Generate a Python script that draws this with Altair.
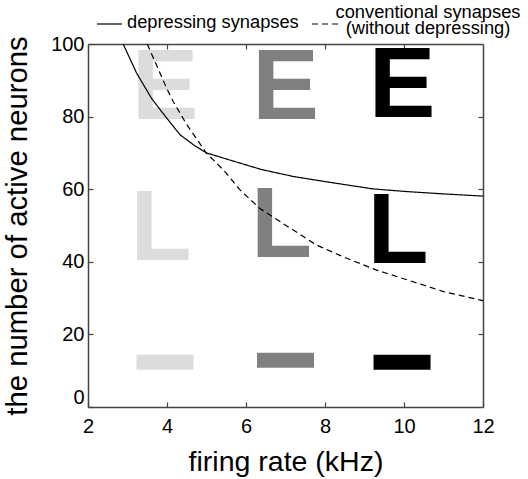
import altair as alt
import pandas as pd

# depressing synapses (solid curve)
dep_x = [2.89, 3.23, 3.61, 3.82, 4.0, 4.33, 4.7, 5.0, 5.6, 6.4, 7.2, 8.0, 9.2, 10.0, 11.0, 12.0]
dep_y = [100, 92, 85, 82, 79.5, 75, 72, 70, 68, 65.4, 63.5, 62.1, 60.1, 59.4, 58.7, 58.1]
# conventional synapses (dashed curve)
conv_x = [3.5, 4.0, 4.16, 4.5, 5.0, 5.43, 5.85, 6.35, 7.0, 7.79, 8.5, 9.31, 10.49, 11.0, 12.0]
conv_y = [100, 87.6, 84.1, 77.8, 69.9, 65.3, 59.8, 54.7, 50.1, 44.6, 41.2, 37.7, 33.6, 31.8, 29.3]
series_names = ["depressing synapses", "conventional synapses"]

# glyph columns
col_x = [3.95, 7.0, 9.95]
col_level = ["light", "mid", "dark"]
col_color = ["#dcdcdc", "#808080", "#000000"]
e_base = [79.3, 79.3, 79.8]
l_base = [40.5, 41.2, 39.8]
dash_y = [12.3, 12.9, 12.3]

FONT = "Liberation Sans"

lines_df = pd.DataFrame({
    "x": dep_x + conv_x,
    "y": dep_y + conv_y,
    "series": [series_names[0]] * len(dep_x) + [series_names[1]] * len(conv_x),
})
glyph_df = pd.DataFrame({"x": col_x, "level": col_level, "e": e_base, "l": l_base, "d": dash_y})

xs = alt.Scale(domain=[2, 12], nice=False, zero=False)
ys = alt.Scale(domain=[0, 100], nice=False, zero=False)
color_scale = alt.Scale(domain=col_level, range=col_color)

axis_common = dict(
    domainColor="#444444", domainWidth=1.5, tickColor="#444444", tickWidth=1.2,
    tickSize={"expr": "-5"}, grid=False,
)

x_bottom = alt.Axis(values=[2, 4, 6, 8, 10, 12], title="firing rate (kHz)", titleFont=FONT,
                    titleFontSize=28.5, titleFontWeight="normal", titleColor="black", titlePadding=11,
                    labelFont=FONT, labelFontSize=20, labelColor="black", labelPadding=14,
                    labelFlush=False, **axis_common)
y_left = alt.Axis(values=[0, 20, 40, 60, 80, 100], title="the number of active neurons", titleFont=FONT,
                  titleFontSize=29.3, titleFontWeight="normal", titleColor="black", titlePadding=18,
                  labelFont=FONT, labelFontSize=20, labelColor="black", labelPadding=9,
                  labelFlush=False,
                  labelOffset={"condition": {"test": "datum.value === 0", "value": -10}, "value": 0},
                  **axis_common)
x_top = alt.Axis(orient="top", values=[4, 6, 8, 10], labels=False, title=None, **axis_common)
y_right = alt.Axis(orient="right", values=[20, 40, 60, 80], labels=False, title=None, **axis_common)

lines = alt.Chart(lines_df).mark_line(color="black", strokeWidth=1.2).encode(
    x=alt.X("x:Q", scale=xs, axis=x_bottom),
    y=alt.Y("y:Q", scale=ys, axis=y_left),
    strokeDash=alt.StrokeDash("series:N", scale=alt.Scale(domain=series_names, range=[[1, 0], [6, 4]]), legend=None),
    detail="series:N",
)

glyph_base = alt.Chart(glyph_df)
e_text = glyph_base.mark_text(text="E", font=FONT, fontWeight="bold", fontSize=100,
                              baseline="alphabetic", align="center").encode(
    x=alt.X("x:Q", scale=xs, axis=x_top),
    y=alt.Y("e:Q", scale=ys, axis=y_right),
    color=alt.Color("level:N", scale=color_scale, legend=None),
)
l_text = glyph_base.mark_text(text="L", font=FONT, fontWeight="bold", fontSize=100,
                              baseline="alphabetic", align="center", dx=-4).encode(
    x=alt.X("x:Q", scale=xs, axis=None),
    y=alt.Y("l:Q", scale=ys, axis=None),
    color=alt.Color("level:N", scale=color_scale, legend=None),
)
dashes = glyph_base.mark_tick(orient="horizontal", size=57, thickness=15, opacity=1).encode(
    x=alt.X("x:Q", scale=xs, axis=None),
    y=alt.Y("d:Q", scale=ys, axis=None),
    color=alt.Color("level:N", scale=color_scale, legend=None),
)

# legend drawn above the plot
leg = alt.Chart(pd.DataFrame({"k": [0]}))
leg_solid = leg.mark_rule(color="black", strokeWidth=1.2).encode(
    x=alt.value(9), x2=alt.value(34), y=alt.value(-20))
leg_dash = leg.mark_rule(color="black", strokeWidth=1.2, strokeDash=[6, 4]).encode(
    x=alt.value(224), x2=alt.value(251), y=alt.value(-20))
leg_t1 = leg.mark_text(text="depressing synapses", font=FONT, fontSize=18.3, align="left",
                       baseline="alphabetic", color="black").encode(x=alt.value(39), y=alt.value(-15.7))
leg_t2 = leg.mark_text(text="conventional synapses\n(without depressing)", lineBreak="\n",
                       lineHeight=15.5, font=FONT, fontSize=18.3, align="center",
                       baseline="alphabetic", color="black").encode(x=alt.value(340), y=alt.value(-25.7))

chart = alt.layer(
    e_text, l_text, dashes, lines, leg_solid, leg_dash, leg_t1, leg_t2
).resolve_axis(x="independent", y="independent").properties(
    width=395, height=363,
    autosize=alt.AutoSizeParams(type="none"),
    padding={"left": 88, "top": 44, "right": 45, "bottom": 72},
    background="white",
).configure_view(stroke=None)

chart.save("out.html", embed_options={"renderer": "svg", "actions": False})
